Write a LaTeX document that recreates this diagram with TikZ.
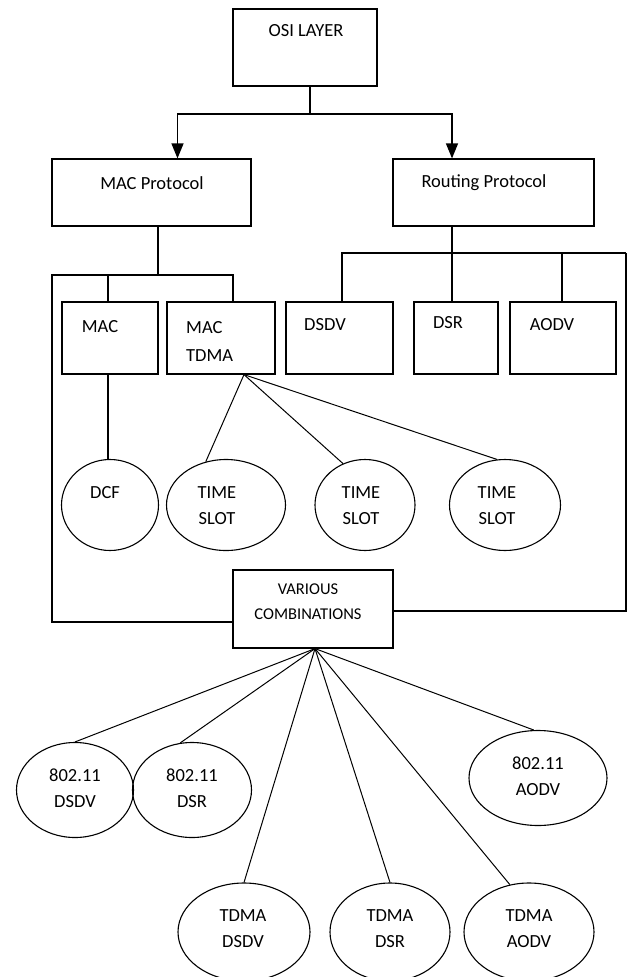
\documentclass[tikz,border=0pt]{standalone}
\usepackage{fontspec}
\setmainfont{Carlito}
\usetikzlibrary{arrows.meta, shapes.geometric}

\tikzset{
  box/.style={draw, line width=1.2pt, inner sep=0pt},
  bubble/.style={draw, ellipse, line width=1.1pt, inner sep=0pt},
  txt/.style={font=\fontsize{18.5}{26}\selectfont, align=center, inner sep=0pt},
  link/.style={line width=1.3pt},
  fan/.style={line width=1pt},
  tip/.style={-{Triangle[width=12pt, length=15pt]}},
}

\begin{document}
\begin{tikzpicture}[x=1pt, y=-1pt]
  \useasboundingbox (0,0) rectangle (627,977);

  % top levels
  \node[box, minimum width=144pt, minimum height=77pt] (osi) at (305,47.5) {};
  \node[txt] (osiT) at (306,31) {OSI LAYER};
  \node[box, minimum width=199pt, minimum height=67pt] (macp) at (151.5,192.5) {};
  \node[txt] (macpT) at (152,183) {MAC Protocol};
  \node[box, minimum width=201pt, minimum height=67pt] (rout) at (493.5,192.5) {};
  \node[txt] (routT) at (484,183) {Routing Protocol};

  % protocol boxes
  \node[box, minimum width=96pt, minimum height=72pt] (mac) at (110,338) {};
  \node[txt] (macT) at (100,327) {MAC};
  \node[box, minimum width=108pt, minimum height=72pt] (mactdma) at (221,338) {};
  \node[txt, font=\fontsize{18.5}{28}\selectfont, align=left, anchor=west] (mactdmaT) at (186,341) {MAC\\TDMA};
  \node[box, minimum width=107pt, minimum height=72pt] (dsdv) at (339.5,338) {};
  \node[txt] (dsdvT) at (325,325) {DSDV};
  \node[box, minimum width=84pt, minimum height=72pt] (dsr) at (456,338) {};
  \node[txt] (dsrT) at (448,323) {DSR};
  \node[box, minimum width=106pt, minimum height=72pt] (aodv) at (563,338) {};
  \node[txt] (aodvT) at (552,325) {AODV};

  % second row of ellipses
  \node[bubble, minimum width=97pt, minimum height=91pt] (dcf) at (110,505) {};
  \node[txt] (dcfT) at (105,493) {DCF};
  \node[bubble, minimum width=119pt, minimum height=91pt] (ts1) at (226,505) {};
  \node[txt] (ts1T) at (217,506) {TIME\\SLOT};
  \node[bubble, minimum width=100pt, minimum height=91pt] (ts2) at (365,505) {};
  \node[txt] (ts2T) at (361,506) {TIME\\SLOT};
  \node[bubble, minimum width=111pt, minimum height=91pt] (ts3) at (505,505) {};
  \node[txt] (ts3T) at (497,506) {TIME\\SLOT};

  \node[box, minimum width=160pt, minimum height=78pt] (various) at (313,609) {};
  \node[txt, font=\fontsize{16.5}{25}\selectfont] (variousT) at (308,602) {VARIOUS\\COMBINATIONS};

  % combinations
  \node[bubble, minimum width=117pt, minimum height=95pt] (wdsdv) at (75,790) {};
  \node[txt] (wdsdvT) at (75,788) {802.11\\DSDV};
  \node[bubble, minimum width=119pt, minimum height=95pt] (wdsr) at (192,790) {};
  \node[txt] (wdsrT) at (192,788) {802.11\\DSR};
  \node[bubble, minimum width=138pt, minimum height=95pt] (waodv) at (538,778) {};
  \node[txt] (waodvT) at (538,776) {802.11\\AODV};
  \node[bubble, minimum width=132pt, minimum height=98pt] (tdsdv) at (244,932) {};
  \node[txt] (tdsdvT) at (243,929) {TDMA\\DSDV};
  \node[bubble, minimum width=120pt, minimum height=98pt] (tdsr) at (390,932) {};
  \node[txt] (tdsrT) at (390,929) {TDMA\\DSR};
  \node[bubble, minimum width=130pt, minimum height=98pt] (taodv) at (529,932) {};
  \node[txt] (taodvT) at (529,929) {TDMA\\AODV};

  % junctions
  \coordinate (top) at (310,114);
  \coordinate (mj) at (158,275);
  \coordinate (ml) at (52,275);
  \coordinate (rr) at (626,253);

  \draw[link, tip] ([xshift=5pt]osi.south) -- (top) -| ([xshift=26pt]macp.north);
  \draw[link, tip] (top) -| ([xshift=-41.5pt]rout.north);

  \draw[link] ([xshift=6.5pt]macp.south) -- (mj);
  \draw[link] ([xshift=-2pt]mac.north) |- (mj);
  \draw[link] ([xshift=12pt]mactdma.north) |- (mj);
  \draw[link] ([yshift=-13pt]various.west) -| (ml) -- (mj);
  \draw[link] ([xshift=-2pt]mac.south) -- ([xshift=-2pt]dcf.north);

  \draw[link] ([xshift=-41.5pt]rout.south) -- ([xshift=-4pt]dsr.north);
  \draw[link] ([xshift=2.5pt]dsdv.north) |- (rr);
  \draw[link] ([xshift=-1pt]aodv.north) -- ([xshift=-1pt]aodv.north |- rr);
  \draw[link] ([yshift=-2pt]various.east) -| (rr);

  \draw[fan] ([xshift=23pt]mactdma.south) -- (ts1.115);
  \draw[fan] ([xshift=23pt]mactdma.south) -- (ts2.118);
  \draw[fan] ([xshift=23pt]mactdma.south) -- (ts3.100);

  \foreach \e in {wdsdv.north, wdsr.104, tdsdv.north, tdsr.north, taodv.112, waodv.95}
    \draw[fan] ([xshift=2pt]various.south) -- (\e);
\end{tikzpicture}
\end{document}
